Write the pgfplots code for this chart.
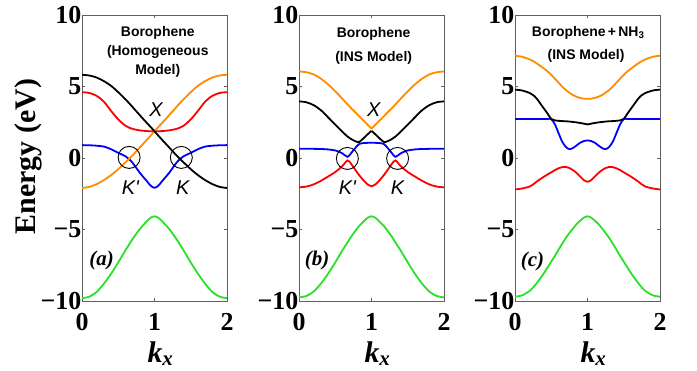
\documentclass[border=0pt]{standalone}
\usepackage{fontspec}
\setmainfont{Liberation Serif}
\newfontfamily\sansf{Liberation Sans}
\usepackage{pgfplots}
\usepackage{pgfplotstable}
\pgfplotsset{compat=1.18}

\definecolor{cor}{RGB}{255,140,0}
\definecolor{cgr}{RGB}{40,225,40}
\definecolor{cbl}{RGB}{0,0,255}
\definecolor{cre}{RGB}{255,0,0}
\definecolor{frame}{RGB}{95,95,95}

\newcommand\tickfont{\bfseries\fontsize{26}{26}\selectfont}
\newcommand\titfont{\sansf\bfseries\fontsize{14}{16}\selectfont}
\newcommand\symfont{\sansf\itshape\fontsize{20}{20}\selectfont}
\newcommand\panfont{\bfseries\itshape\fontsize{21}{21}\selectfont}

% panel (a): k black orange red blue green
\pgfplotstableread{
k bl or re bu gr
0 5.82 -2.10 4.60 0.90 -9.80
0.1 5.77 -2.02 4.55 0.89 -9.70
0.2 5.63 -1.83 4.35 0.86 -9.38
0.3 5.38 -1.55 3.95 0.80 -8.80
0.4 5.05 -1.20 3.30 0.62 -8.10
0.5 4.60 -0.78 2.70 0.36 -7.30
0.6 4.10 -0.30 2.25 0.12 -6.45
0.65 3.83 -0.05 2.12 -0.08 -6.05
0.7 3.55 0.20 2.03 -0.35 -5.65
0.8 2.98 0.75 1.93 -1.05 -4.95
0.9 2.42 1.30 1.88 -1.65 -4.40
0.95 2.15 1.58 1.87 -1.95 -4.17
1.0 1.87 1.87 1.87 -2.08 -4.08
1.05 1.58 2.15 1.87 -1.95 -4.17
1.1 1.30 2.42 1.88 -1.65 -4.40
1.2 0.75 2.98 1.93 -1.05 -4.95
1.3 0.20 3.55 2.03 -0.35 -5.65
1.35 -0.05 3.83 2.12 -0.08 -6.05
1.4 -0.30 4.10 2.25 0.12 -6.45
1.5 -0.78 4.60 2.70 0.36 -7.30
1.6 -1.20 5.05 3.30 0.62 -8.10
1.7 -1.55 5.38 3.95 0.80 -8.80
1.8 -1.83 5.63 4.35 0.86 -9.38
1.9 -2.02 5.77 4.55 0.89 -9.70
2.0 -2.10 5.82 4.60 0.90 -9.80
}\tabA

% panel (b)
\pgfplotstableread{
k or bl bu re gr
0 6.05 3.96 0.65 -2.05 -9.75
0.1 6.00 3.90 0.65 -2.00 -9.65
0.2 5.85 3.70 0.64 -1.85 -9.35
0.3 5.55 3.35 0.63 -1.60 -8.80
0.4 5.15 2.85 0.60 -1.30 -8.10
0.5 4.66 2.33 0.53 -0.98 -7.30
0.55 4.40 2.08 0.44 -0.78 -6.88
0.6 4.13 1.82 0.32 -0.55 -6.45
0.67 3.75 1.50 0.08 -0.17 -5.90
0.72 3.48 1.32 0.35 -0.42 -5.50
0.78 3.18 1.17 0.72 -0.85 -5.08
0.83 2.92 1.12 0.98 -1.20 -4.75
0.9 2.56 1.43 1.05 -1.62 -4.40
0.95 2.30 1.67 1.06 -1.86 -4.17
1.0 2.06 1.90 1.06 -1.97 -4.08
1.05 2.30 1.67 1.06 -1.86 -4.17
1.1 2.56 1.43 1.05 -1.62 -4.40
1.17 2.92 1.12 0.98 -1.20 -4.75
1.22 3.18 1.17 0.72 -0.85 -5.08
1.28 3.48 1.32 0.35 -0.42 -5.50
1.33 3.75 1.50 0.08 -0.17 -5.90
1.4 4.13 1.82 0.32 -0.55 -6.45
1.45 4.40 2.08 0.44 -0.78 -6.88
1.5 4.66 2.33 0.53 -0.98 -7.30
1.6 5.15 2.85 0.60 -1.30 -8.10
1.7 5.55 3.35 0.63 -1.60 -8.80
1.8 5.85 3.70 0.64 -1.85 -9.35
1.9 6.00 3.90 0.65 -2.00 -9.65
2.0 6.05 3.96 0.65 -2.05 -9.75
}\tabB

% panel (c)
\pgfplotstableread{
k or bl bu re gr
0 7.15 4.78 2.73 -2.20 -9.70
0.1 7.08 4.72 2.73 -2.13 -9.60
0.2 6.90 4.55 2.73 -2.00 -9.30
0.25 6.78 4.40 2.73 -1.85 -9.05
0.3 6.62 4.15 2.73 -1.65 -8.75
0.4 6.25 3.45 2.73 -1.30 -8.05
0.45 6.05 3.10 2.73 -1.15 -7.65
0.5 5.82 2.73 2.72 -1.00 -7.25
0.55 5.55 2.63 2.35 -0.85 -6.85
0.6 5.27 2.60 1.75 -0.72 -6.42
0.65 5.00 2.58 1.15 -0.64 -6.00
0.7 4.76 2.57 0.78 -0.62 -5.60
0.75 4.57 2.55 0.62 -0.70 -5.25
0.8 4.40 2.52 0.70 -0.85 -4.92
0.85 4.28 2.49 0.88 -1.05 -4.62
0.9 4.20 2.45 1.07 -1.30 -4.38
0.95 4.15 2.40 1.19 -1.55 -4.17
1.0 4.14 2.35 1.23 -1.66 -4.08
1.05 4.15 2.40 1.19 -1.55 -4.17
1.1 4.20 2.45 1.07 -1.30 -4.38
1.15 4.28 2.49 0.88 -1.05 -4.62
1.2 4.40 2.52 0.70 -0.85 -4.92
1.25 4.57 2.55 0.62 -0.70 -5.25
1.3 4.76 2.57 0.78 -0.62 -5.60
1.35 5.00 2.58 1.15 -0.64 -6.00
1.4 5.27 2.60 1.75 -0.72 -6.42
1.45 5.55 2.63 2.35 -0.85 -6.85
1.5 5.82 2.73 2.72 -1.00 -7.25
1.55 6.05 3.10 2.73 -1.15 -7.65
1.6 6.25 3.45 2.73 -1.30 -8.05
1.7 6.62 4.15 2.73 -1.65 -8.75
1.75 6.78 4.40 2.73 -1.85 -9.05
1.8 6.90 4.55 2.73 -2.00 -9.30
1.9 7.08 4.72 2.73 -2.13 -9.60
2.0 7.15 4.78 2.73 -2.20 -9.70
}\tabC

\pgfplotsset{
  panel/.style={
    scale only axis, width=145bp, height=286bp,
    xmin=0, xmax=2, ymin=-10, ymax=10,
    xtick={0,1,2}, ytick={-10,-5,0,5,10},
    xticklabels={0,1,2}, yticklabels={−10,−5,0,5,10},
    tick align=inside, major tick length=3bp,
    tick style={frame, line width=0.5bp},
    axis line style={frame, line width=0.8bp},
    ticklabel style={font=\tickfont, inner sep=0pt},
    yticklabel style={anchor=east, xshift=-0.5bp},
    xticklabel style={anchor=north, yshift=-12bp},
    xlabel={k\textsubscript{x}},
    xlabel style={font=\bfseries\itshape\fontsize{30}{30}\selectfont,
      at={(axis description cs:0.5,0)}, anchor=base, yshift=-61bp, xshift=6bp, inner sep=0pt},
    every axis plot/.append style={line width=1.8bp, no markers},
  }
}

\begin{document}
\begin{tikzpicture}
\useasboundingbox (0,0) rectangle (697bp,371bp);

% (a)
\begin{axis}[panel, at={(82bp,70bp)}, anchor=south west,
  ylabel={Energy (eV)},
  ylabel style={font=\bfseries\fontsize{30}{30}\selectfont,
    at={(axis description cs:-0.324,0.505)}, anchor=base, inner sep=0pt}]
\addplot[cgr, smooth] table[x=k,y=gr]{\tabA};
\addplot[cre, smooth] table[x=k,y=re]{\tabA};
\addplot[cbl, smooth] table[x=k,y=bu]{\tabA};
\addplot[cor, smooth] table[x=k,y=or]{\tabA};
\addplot[black, smooth] table[x=k,y=bl]{\tabA};
\draw[black, line width=0.9bp] (axis cs:0.65,0.04) circle[radius=11bp];
\draw[black, line width=0.9bp] (axis cs:1.37,0.04) circle[radius=11bp];
\node[font=\symfont] at (axis cs:1.02,3.38) {X};
\node[font=\symfont] at (axis cs:0.667,-2.06) {K\textquotesingle};
\node[font=\symfont] at (axis cs:1.39,-2.06) {K};
\node[font=\titfont, anchor=base] at (axis cs:1.045,8.49) {Borophene};
\node[font=\titfont, anchor=base] at (axis cs:1.045,7.15) {(Homogeneous};
\node[font=\titfont, anchor=base] at (axis cs:1.045,5.82) {Model)};
\node[font=\panfont] at (axis cs:0.27,-7.14) {(a)};
\end{axis}

% (b)
\begin{axis}[panel, at={(299bp,70bp)}, anchor=south west]
\addplot[cgr, smooth] table[x=k,y=gr]{\tabB};
\addplot[cre, smooth] table[x=k,y=re]{\tabB};
\addplot[cbl, smooth] table[x=k,y=bu]{\tabB};
\addplot[black, smooth, restrict x to domain=0:1] table[x=k,y=bl]{\tabB};
\addplot[black, smooth, restrict x to domain=1:2] table[x=k,y=bl]{\tabB};
\addplot[cor, smooth, restrict x to domain=0:1] table[x=k,y=or]{\tabB};
\addplot[cor, smooth, restrict x to domain=1:2] table[x=k,y=or]{\tabB};
\draw[black, line width=0.9bp] (axis cs:0.667,-0.03) circle[radius=11bp];
\draw[black, line width=0.9bp] (axis cs:1.36,-0.03) circle[radius=11bp];
\node[font=\symfont] at (axis cs:1.03,3.38) {X};
\node[font=\symfont] at (axis cs:0.667,-2.06) {K\textquotesingle};
\node[font=\symfont] at (axis cs:1.36,-2.06) {K};
\node[font=\titfont, anchor=base] at (axis cs:1.03,8.45) {Borophene};
\node[font=\titfont, anchor=base] at (axis cs:1.03,6.75) {(INS Model)};
\node[font=\panfont] at (axis cs:0.25,-7.14) {(b)};
\end{axis}

% (c)
\begin{axis}[panel, at={(515bp,70bp)}, anchor=south west]
\addplot[cgr, smooth] table[x=k,y=gr]{\tabC};
\addplot[cre, smooth] table[x=k,y=re]{\tabC};
\addplot[cbl, smooth] table[x=k,y=bu]{\tabC};
\addplot[black, smooth] table[x=k,y=bl]{\tabC};
\addplot[cor, smooth] table[x=k,y=or]{\tabC};
\node[font=\titfont, anchor=base] at (axis cs:1.01,8.49) {Borophene\,+\,NH\textsubscript{3}};
\node[font=\titfont, anchor=base] at (axis cs:0.98,6.86) {(INS Model)};
\node[font=\panfont] at (axis cs:0.24,-7.25) {(c)};
\end{axis}
\end{tikzpicture}
\end{document}
